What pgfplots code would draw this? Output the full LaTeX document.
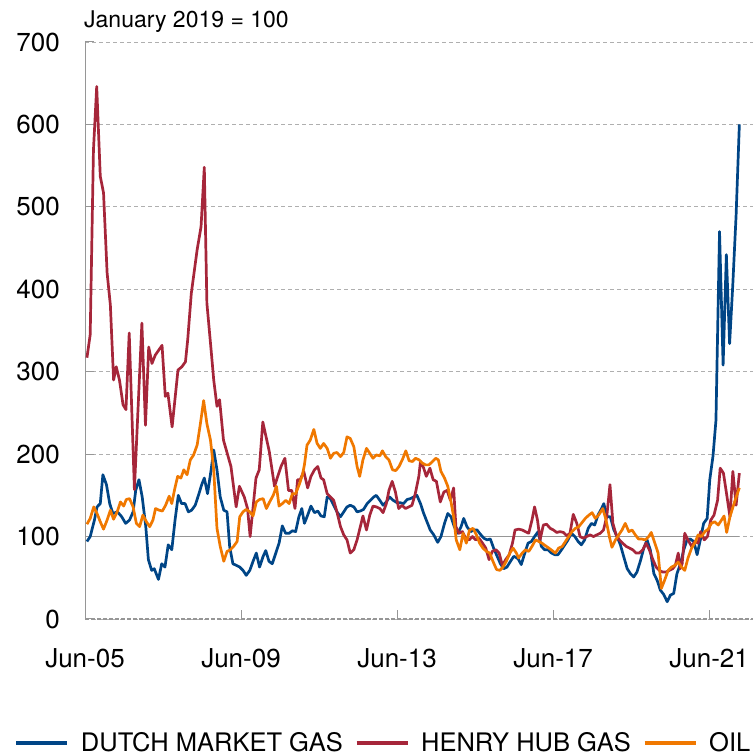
\documentclass[border=0pt]{standalone}
\usepackage{fontspec}
\setmainfont{TeX Gyre Heros}
\usepackage{pgfplots}
\pgfplotsset{compat=1.18}
\definecolor{dutch}{RGB}{0,69,134}
\definecolor{henry}{RGB}{166,38,58}
\definecolor{oil}{RGB}{240,120,0}
\definecolor{gridgray}{RGB}{175,175,175}
\definecolor{axisgray}{RGB}{150,150,150}
\begin{document}
\begin{tikzpicture}[x=1bp,y=1bp]
\useasboundingbox (0,0) rectangle (753,756);
\node[anchor=base west, inner sep=0pt, font=\fontsize{23bp}{27bp}\selectfont] at (84,728) {January 2019 = 100};
\begin{axis}[
  at={(85bp,137bp)}, anchor=south west,
  scale only axis, width=668bp, height=577bp,
  xmin=0, xmax=205.5, ymin=0, ymax=700,
  axis x line*=bottom, axis y line*=left,
  axis line style={-},
  x axis line style={axisgray, line width=1.3bp, dash pattern=on 4bp off 2bp},
  y axis line style={axisgray, line width=1bp},
  xtick={0,48,96,144,192}, xticklabels={Jun-05,Jun-09,Jun-13,Jun-17,Jun-21},
  ytick={0,100,...,700},
  tick align=inside,
  major tick length=9bp,
  tick style={axisgray, line width=1bp},
  ymajorgrids,
  grid style={gridgray, line width=0.9bp, dash pattern=on 4bp off 3bp},
  /pgf/number format/assume math mode=true,
  tick label style={font=\fontsize{26bp}{30bp}\selectfont},
  yticklabel style={anchor=east, inner sep=0pt, xshift=-25bp},
  xticklabel style={anchor=north, inner sep=0pt, yshift=-29bp},
  legend columns=3,
  legend style={at={(0.4454,-0.2149)}, anchor=center, draw=none, fill=none,
    font=\fontsize{25.5bp}{30bp}\selectfont,
    nodes={inner sep=0pt},
    /tikz/every odd column/.append style={column sep=12bp},
    /tikz/every even column/.append style={column sep=12bp}},
  legend image code/.code={\draw[#1, line width=3.2bp] (0bp,0bp) -- (51bp,0bp);},
  every axis plot/.append style={line width=2.7bp, line join=round},
]
\addplot[axisgray, line width=1.3bp, forget plot] coordinates {(0,100) (201.3,100)};
\addplot[dutch] coordinates {
(0.6,94) (1.6,100) (2.9,120) (3.7,136) (4.7,140) (5.5,175) (6.6,163) (7.6,140) (8.6,128) (10,130) (11.3,124) (12.5,116) (13.7,120) (14.8,130) (15.6,156) (16.6,169) (17.6,148) (18.7,112) (19.5,72) (20.5,59) (21.3,61) (22.6,48) (23.6,67) (24.6,63) (25.6,90) (26.7,84) (27.7,120) (28.7,150) (29.7,140) (30.8,140) (31.8,130) (32.8,132) (33.9,138) (34.9,150) (35.9,163) (36.7,171) (37.7,152) (38.8,181) (39.6,205) (40.6,181) (41.6,148) (42.7,132) (43.7,130) (44.5,88) (45.5,67) (46.6,65) (47.6,63) (48.6,59) (49.6,53) (50.7,59) (51.7,70) (52.7,80) (53.7,63) (54.8,76) (55.6,83) (56.6,70) (57.6,67) (58.7,80) (59.7,92) (60.7,113) (61.7,104) (62.8,104) (63.8,107) (64.8,106) (65.8,124) (66.7,134) (67.5,116) (68.5,126) (69.5,137) (70.6,129) (71.6,131) (72.6,125) (73.6,124) (74.5,148) (75.5,146) (76.5,138) (77.5,130) (78.6,124) (79.6,130) (80.6,136) (81.6,138) (82.7,136) (83.7,130) (84.7,131) (85.7,133) (86.8,140) (87.8,144) (88.8,148) (89.6,150) (90.7,144) (91.7,138) (92.7,142) (93.7,148) (94.8,144) (96,141) (97,141) (98,140) (99.1,145) (100.1,146) (101.1,148) (102.1,150) (103.2,140) (104.2,128) (105.2,118) (106.2,108) (107.3,102) (108.5,93) (109.5,100) (110.6,116) (111.6,128) (112.6,124) (113.6,112) (114.7,104) (115.7,112) (116.5,122) (117.5,112) (118.6,106) (119.6,108) (120.6,108) (121.6,103) (122.7,98) (123.7,96) (124.7,97) (125.7,86) (126.8,76) (127.8,67) (128.8,61) (129.8,63) (130.9,70) (131.9,76) (132.9,74) (133.4,72) (134.2,66) (135.3,80) (136.3,92) (137.3,94) (138.3,100) (139.4,106) (140.4,88) (141.4,84) (142.4,84) (143.5,80) (144.5,78) (145.5,78) (146.6,84) (147.6,90) (148.6,96) (149.6,104) (150.7,100) (151.7,94) (152.7,90) (153.7,96) (154.8,110) (155.8,116) (156.8,114) (157.8,126) (158.9,134) (159.6,140) (160.6,124) (161.6,124) (162.7,108) (163.7,100) (164.7,90) (165.7,76) (166.8,61) (167.8,55) (168.8,51) (169.8,57) (170.9,71) (171.9,86) (172.9,96) (173.9,84) (175,55) (176,47) (177,35) (178,30) (179.1,21) (180.1,29) (181.1,31) (182.1,55) (183.2,67) (184.2,84) (185.2,96) (186.2,97) (187.3,94) (188.3,78) (189.3,96) (190.3,116) (191.4,122) (192.2,169) (193.2,198) (194.1,241) (195.2,470) (196.3,308) (197.3,442) (198.3,334) (199.3,407) (200.3,490) (201.3,600)
};
\addlegendentry{DUTCH MARKET GAS}
\addplot[henry] coordinates {
(0.6,317) (1.6,345) (2.6,569) (3.6,646) (4.7,537) (5.7,517) (6.8,420) (7.8,381) (8.8,290) (9.6,306) (10.6,290) (11.7,260) (12.6,254) (13.6,347) (15.2,157) (17.5,359) (18.6,235) (19.6,330) (20.6,310) (21.6,320) (23.7,332) (24.7,270) (25.5,274) (26.8,233) (28.6,302) (29.8,306) (30.9,312) (31.6,339) (32.7,395) (34.5,448) (35.7,476) (36.7,548) (37.5,383) (38.8,326) (39.6,290) (40.6,258) (41.4,266) (42.6,217) (44.9,185) (46.5,136) (47.5,161) (49,148) (50,134) (50.8,100) (52.6,171) (53.6,181) (54.7,239) (55.7,221) (56.7,203) (58.3,161) (59.3,173) (60.3,185) (61.5,195) (62.6,156) (63.6,156) (64.6,134) (65.4,169) (66.2,169) (67.3,179) (68.5,159) (69.5,173) (70.6,181) (71.6,185) (72.6,171) (73.4,169) (74.5,152) (75.5,148) (76.5,144) (77.5,130) (78.6,112) (79.6,102) (80.6,96) (81.6,80) (82.7,84) (83.7,96) (84.7,112) (85.5,125) (86.6,108) (87.6,126) (88.6,137) (89.6,136) (90.7,134) (91.7,129) (92.7,140) (93.5,156) (94.5,167) (95.5,154) (96.5,134) (97.5,138) (98.6,134) (99.6,136) (100.6,138) (101.6,152) (102.7,173) (103.2,191) (104.2,183) (105,173) (106.1,183) (107.1,169) (108.1,167) (109.3,142) (110.4,154) (111.4,156) (112.4,144) (113.4,159) (114.1,112) (115.1,104) (116.1,106) (117.1,98) (118.2,96) (119.2,100) (120.2,96) (121.2,98) (122.3,92) (123.3,86) (124.3,72) (125.3,82) (126.4,84) (127.4,80) (128.4,65) (129.4,72) (130.5,78) (131.5,92) (132.3,108) (133.4,109) (134.5,108) (135.5,106) (136.5,104) (137.5,120) (138.3,136) (139.2,120) (140,96) (141,114) (142,115) (143.1,110) (144.1,108) (145.1,105) (146.1,106) (147.2,105) (148.2,101) (149.2,104) (150.2,127) (151.3,116) (152.3,100) (153.3,98) (154.3,100) (155.4,102) (156.4,100) (157.4,102) (158.5,104) (159.5,108) (160.5,124) (161.5,163) (162.4,116) (163.4,102) (164.4,96) (165.4,92) (166.5,88) (167.5,86) (168.5,84) (169.5,80) (170.5,80) (171.6,84) (172.6,92) (173.6,84) (174.7,72) (175.7,63) (176.7,59) (177.7,57) (178.8,57) (179.8,59) (180.8,61) (181.6,65) (182.5,80) (183.1,61) (183.7,67) (184.5,104) (185.5,96) (186.6,88) (187.6,94) (188.6,92) (189.4,106) (190.5,96) (191.5,100) (192.5,120) (193.5,126) (194.6,144) (195.4,183) (196.4,177) (197.4,151) (198.4,124) (199.3,179) (200.3,138) (201.3,177)
};
\addlegendentry{HENRY HUB GAS}
\addplot[oil] coordinates {
(0.6,115) (1.6,122) (2.7,136) (3.7,128) (4.7,118) (5.7,109) (6.8,120) (7.8,132) (8.8,121) (9.9,130) (10.9,142) (11.9,137) (12.7,145) (13.7,146) (14.8,136) (15.8,116) (16.8,112) (17.8,126) (18.9,118) (19.9,112) (20.9,120) (21.7,134) (22.8,132) (23.8,131) (24.8,138) (25.9,149) (26.7,140) (27.5,156) (28.5,173) (29.5,171) (30.4,181) (31.4,175) (32.4,193) (33.4,199) (34.5,211) (35.5,237) (36.5,265) (37.5,237) (38.6,217) (39.6,181) (40.6,110) (41.6,88) (42.7,70) (43.7,82) (44.7,84) (45.7,88) (46.8,94) (47.6,124) (48.6,130) (49.6,133) (50.7,130) (51.7,125) (52.7,142) (53.7,145) (54.8,146) (55.8,134) (56.8,142) (57.9,150) (58.9,161) (59.7,137) (60.7,140) (61.8,144) (62.8,140) (63.8,152) (64.8,152) (65.9,163) (66.9,175) (67.5,187) (68.3,211) (69.3,217) (70.4,230) (71.4,213) (72.4,207) (73.4,213) (74.5,207) (75.5,195) (76.5,201) (77.5,202) (78.6,197) (79.6,202) (80.6,221) (81.6,219) (82.7,209) (83.7,185) (84.5,173) (85.5,193) (86.6,207) (87.6,201) (88.6,195) (89.6,199) (90.7,198) (91.5,204) (92.5,197) (93.5,193) (94.6,181) (95.6,180) (96.6,185) (97.6,193) (98.7,204) (99.7,192) (100.7,191) (101.7,195) (102.8,193) (103.8,189) (104.8,187) (105.8,187) (106.9,191) (107.9,195) (108.7,193) (109.5,179) (110.6,171) (111.6,161) (112.6,142) (113.4,124) (114.2,96) (115.3,84) (116.3,104) (117.3,92) (118.3,108) (119.4,110) (120.4,102) (121.4,92) (122.4,86) (123.5,82) (124.5,80) (125.5,70) (126.6,60) (127.6,59) (128.6,63) (129.6,70) (130.7,80) (131.7,86) (132.7,80) (133.4,74) (134.5,80) (135.5,84) (136.5,82) (137.5,88) (138.6,96) (139.6,94) (140.6,92) (141.6,89) (142.7,86) (143.7,83) (144.7,80) (145.7,86) (146.8,88) (147.8,94) (148.8,100) (149.8,106) (150.9,110) (151.9,112) (152.9,117) (153.9,122) (155,126) (156,129) (157,122) (158,126) (159.3,134) (160.3,120) (161.3,100) (162.1,87) (163.2,96) (164.2,102) (165.2,108) (166.2,116) (167.3,106) (168.3,108) (169.3,102) (170.3,97) (171.3,97) (172.4,96) (173.4,100) (174.2,105) (175.3,92) (176.3,80) (177.3,37) (178.3,47) (179.4,59) (180.4,63) (181.4,65) (182.5,69) (183.5,63) (184.5,59) (185.5,74) (186.6,86) (187.6,92) (188.6,102) (189.6,100) (190.7,106) (191.7,109) (192.7,116) (193.7,118) (194.8,114) (195.8,120) (196.6,125) (197.4,105) (198.4,124) (199.5,138) (200.5,150) (201.3,159)
};
\addlegendentry{OIL}
\end{axis}
\end{tikzpicture}
\end{document}
